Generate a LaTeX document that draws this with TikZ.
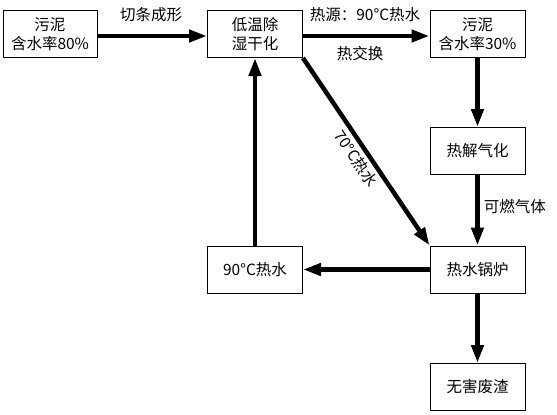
\documentclass[tikz,border=0pt]{standalone}
\usepackage{fontspec}
\setmainfont{Noto Sans CJK SC}
\usetikzlibrary{arrows.meta}
\begin{document}
\begin{tikzpicture}[x=1pt,y=-1pt,
  box/.style={draw, line width=1pt, minimum width=95pt, minimum height=47pt, inner sep=0pt, align=center, font=\fontsize{15.5}{19}\selectfont},
  flow/.style={line width=4.5pt, -{Triangle[length=18pt,width=12pt]}},
  lbl/.style={font=\fontsize{15.5}{17}\selectfont, inner sep=1pt}]
\useasboundingbox (0,0) rectangle (557,415);
\node[box, minimum width=94pt] (a) at (50,34) {污泥\\含水率80\%};
\node[box] (b) at (255,34) {低温除\\湿干化};
\node[box] (c) at (477.5,34) {污泥\\含水率30\%};
\node[box] (d) at (477.5,151) {热解气化};
\node[box] (e) at (477.5,269.5) {热水锅炉};
\node[box] (f) at (255,269.5) {90°C热水};
\node[box] (g) at (477.5,387) {无害废渣};
\draw[flow] (a.east |- 0,36) -- (b.west |- 0,36);
\node[lbl] (l1) at (151,15) {切条成形};
\draw[flow] (b.east |- 0,36) -- (c.west |- 0,36);
\node[lbl] (l2) at (365,15) {热源：90°C热水};
\node[lbl] (l3) at (360,54) {热交换};
\draw[flow] (c) -- (d);
\draw[flow] (d) -- node[lbl, right=3pt, pos=0.45] (l4) {可燃气体} (e);
\draw[flow] (e) -- (g);
\draw[flow] (e) -- (f);
\draw[flow] (f) -- (b);
\draw[flow] (b.south east) -- node[lbl, sloped, below=2pt, pos=0.5] (l5) {70°C热水} (e.north west);
\end{tikzpicture}
\end{document}
